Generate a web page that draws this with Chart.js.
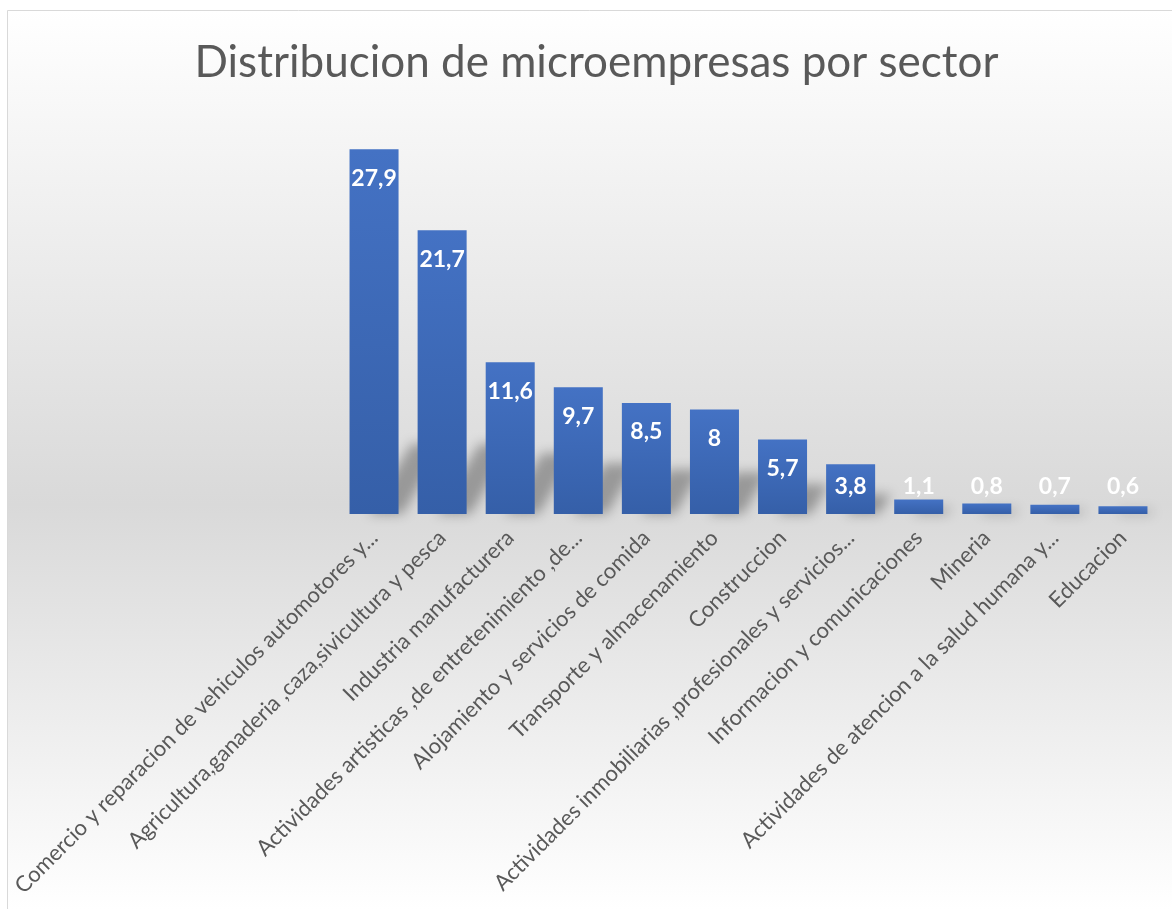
<!DOCTYPE html>
<html><head><meta charset="utf-8">
<script src="https://cdn.jsdelivr.net/npm/chart.js@4.4.1/dist/chart.umd.min.js"></script>
<style>html,body{margin:0;padding:0;background:#fff;overflow:hidden}#wrap{width:1172px;height:909px;position:relative}canvas{display:block}</style>
</head><body><div id="wrap"><canvas id="c" width="1172" height="909"></canvas></div>
<script>
const chartTitle = "Distribucion de microempresas por sector";
const categories = [
  "Comercio y reparacion de vehiculos automotores y...",
  "Agricultura,ganaderia ,caza,sivicultura y pesca",
  "Industria manufacturera",
  "Actividades artisticas ,de entretenimiento ,de...",
  "Alojamiento y servicios de comida",
  "Transporte y almacenamiento",
  "Construccion",
  "Actividades inmobiliarias ,profesionales y servicios...",
  "Informacion y comunicaciones",
  "Mineria",
  "Actividades de atencion a la salud humana y...",
  "Educacion"
];
const values = [27.9, 21.7, 11.6, 9.7, 8.5, 8, 5.7, 3.8, 1.1, 0.8, 0.7, 0.6];
const yMin = 0, yMax = 30;

const bgPlugin = {
  id: 'bg',
  beforeDraw(chart) {
    const ctx = chart.ctx, W = chart.width, H = chart.height;
    ctx.save();
    ctx.fillStyle = '#ffffff';
    ctx.fillRect(0, 0, W, H);
    const g = ctx.createLinearGradient(0, 10, 0, H);
    g.addColorStop(0, '#ffffff');
    g.addColorStop(0.55, '#d9d9d9');
    g.addColorStop(1, '#ffffff');
    ctx.fillStyle = g;
    ctx.fillRect(7, 10, W - 7, H - 10);
    ctx.strokeStyle = '#d9d9d9';
    ctx.lineWidth = 1;
    ctx.beginPath();
    ctx.moveTo(7.5, H); ctx.lineTo(7.5, 10.5); ctx.lineTo(W, 10.5);
    ctx.stroke();
    ctx.restore();
  }
};

// soft perspective shadow behind each bar, derived from the bar elements
const shadowPlugin = {
  id: 'barShadow',
  beforeDatasetsDraw(chart) {
    const ctx = chart.ctx;
    const meta = chart.getDatasetMeta(0);
    ctx.save();
    ctx.filter = 'blur(6px)';
    ctx.fillStyle = 'rgba(0,0,0,0.30)';
    meta.data.forEach((bar) => {
      const h = bar.base - bar.y;
      const hs = Math.min(h * 0.4, 70);
      const dx = hs * 0.6;
      const L = bar.x - bar.width / 2 + bar.width * 0.4;
      const R = bar.x + bar.width / 2;
      ctx.beginPath();
      ctx.moveTo(L, bar.base);
      ctx.lineTo(R + 4, bar.base);
      ctx.lineTo(R + 4 + dx, bar.base - hs);
      ctx.lineTo(L + dx, bar.base - hs);
      ctx.closePath();
      ctx.fill();
    });
    ctx.restore();
  }
};

const valuePlugin = {
  id: 'vals',
  afterDatasetsDraw(chart) {
    const ctx = chart.ctx;
    const meta = chart.getDatasetMeta(0);
    ctx.save();
    ctx.font = 'bold 23px Lato';
    ctx.fillStyle = '#ffffff';
    ctx.textAlign = 'center';
    ctx.textBaseline = 'middle';
    meta.data.forEach((bar, i) => {
      const y = Math.min(bar.y + 29, bar.base - 27);
      ctx.fillText(String(values[i]).replace('.', ','), bar.x, y);
    });
    ctx.restore();
  }
};

function barGradient(context) {
  const chart = context.chart;
  const { ctx, chartArea, scales } = chart;
  if (!chartArea) return '#4472c4';
  const v = context.raw;
  const top = scales.y.getPixelForValue(v);
  const base = scales.y.getPixelForValue(0);
  const g = ctx.createLinearGradient(0, top, 0, base);
  g.addColorStop(0, '#4472c4');
  g.addColorStop(1, '#355fa8');
  return g;
}

new Chart(document.getElementById('c'), {
  type: 'bar',
  data: {
    labels: categories,
    datasets: [{
      data: values,
      backgroundColor: barGradient,
      borderWidth: 0,
      barPercentage: 0.72,
      categoryPercentage: 1.0
    }]
  },
  options: {
    responsive: false,
    devicePixelRatio: 1,
    animation: false,
    layout: { padding: { left: 36, right: 15, top: 0, bottom: 0 } },
    plugins: {
      legend: { display: false },
      tooltip: { enabled: false },
      title: {
        display: true,
        text: chartTitle,
        color: '#595959',
        font: { family: 'Lato', size: 44, weight: 'normal' },
        padding: { top: 36, bottom: 33 }
      }
    },
    scales: {
      x: {
        grid: { display: false, drawTicks: false },
        border: { display: false },
        afterFit(scale) {
          scale.paddingLeft = 340;
          scale.height = 395;
        },
        ticks: {
          autoSkip: false,
          maxRotation: 45,
          minRotation: 45,
          color: '#595959',
          padding: 11,
          font: { family: 'Lato', size: 22 }
        }
      },
      y: { display: false, min: yMin, max: yMax }
    }
  },
  plugins: [bgPlugin, shadowPlugin, valuePlugin]
});
</script>
</body></html>
